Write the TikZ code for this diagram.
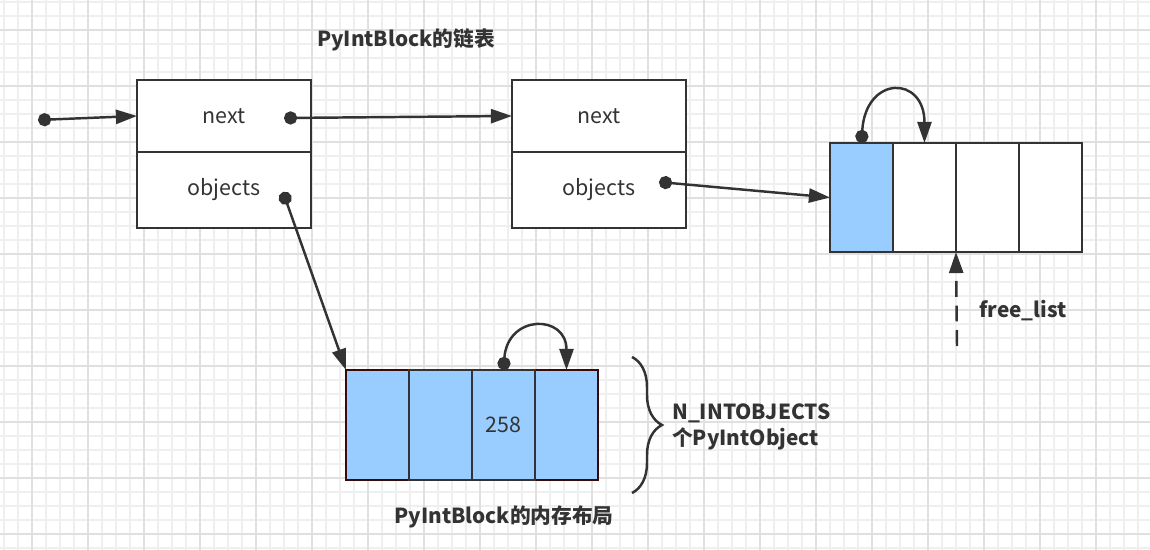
\documentclass[tikz,border=0pt]{standalone}
\usepackage{fontspec}
\setmainfont{Noto Sans CJK SC}
\usetikzlibrary{arrows.meta,positioning,decorations.pathreplacing}
\definecolor{linegray}{HTML}{333333}
\definecolor{cellblue}{HTML}{99CCFF}
\definecolor{edgered}{HTML}{3A0A0A}
\definecolor{gridminor}{HTML}{EFEFEF}
\definecolor{gridmajor}{HTML}{E0E0E0}

\begin{document}
\begin{tikzpicture}[x=0.02cm, y=-0.02cm,
    font=\fontsize{12.2}{14.5}\selectfont,
    every node/.style={text=linegray},
    field/.style={draw=linegray, line width=1.4pt, fill=white, minimum width=3.48cm, inner sep=0pt, outer sep=0pt},
    slot/.style={draw=linegray, line width=1.4pt, fill=cellblue, minimum width=1.26cm, inner sep=0pt, outer sep=0pt, anchor=north west},
    ptr/.style={draw=linegray, line width=1.4pt, {Circle[length=7.5pt]}-{Triangle[length=12pt,width=8pt]}},
    heading/.style={font=\fontsize{11.8}{14.8}\selectfont\bfseries}]
    \useasboundingbox (0,0) rectangle (1150,550);
    \fill[white] (0,0) rectangle (1150,550);
    \foreach \i in {0,...,82} \draw[gridminor, line width=0.6pt] ({4+14*\i},0) -- ({4+14*\i},550);
    \foreach \j in {0,...,39} \draw[gridminor, line width=0.6pt] (0,{2+14*\j}) -- (1150,{2+14*\j});
    \foreach \i in {0,...,20} \draw[gridmajor, line width=0.6pt] ({32+56*\i},0) -- ({32+56*\i},550);
    \foreach \j in {0,...,9} \draw[gridmajor, line width=0.6pt] (0,{30+56*\j}) -- (1150,{30+56*\j});

    \node[heading] (title) at (406,40) {PyIntBlock的链表};
    \node[field, minimum height=1.44cm, anchor=north west] (b1next) at (137,80) {next};
    \node[field, minimum height=1.52cm, below=0pt of b1next] (b1obj) {objects};
    \node[field, minimum height=1.44cm, anchor=north west] (b2next) at (512,80) {next};
    \node[field, minimum height=1.52cm, below=0pt of b2next] (b2obj) {objects};

    \node[slot, minimum height=2.18cm] (f1) at (830,143) {};
    \node[slot, minimum height=2.18cm, fill=white, right=0pt of f1] (f2) {};
    \node[slot, minimum height=2.18cm, fill=white, right=0pt of f2] (f3) {};
    \node[slot, minimum height=2.18cm, fill=white, right=0pt of f3] (f4) {};

    \node[slot, minimum height=2.2cm, draw=edgered] (o1) at (346,370) {};
    \node[slot, minimum height=2.2cm, draw=edgered] (o4) at (535,370) {};
    \node[slot, minimum height=2.2cm] (o2) at (409,370) {};
    \node[slot, minimum height=2.2cm] (o3) at (472,370) {258};

    \coordinate (start) at (38,120);
    \coordinate (n1) at (284,118);
    \coordinate (p1) at (283,192);
    \coordinate (p2) at (659,182);
    \coordinate (fl) at (957,346);
    \draw[ptr] (start) -- (b1next.west);
    \draw[ptr] (n1) -- (b2next.west);
    \draw[ptr] (p1) -- (o1.north west);
    \draw[ptr] (p2) -- (f1.west);
    \draw[ptr] (f1.north) .. controls +(4,-68) and +(0,-68) .. (f2.north);
    \draw[ptr] (o3.north) .. controls +(4,-56) and +(0,-56) .. (o4.north);
    \draw[draw=linegray, line width=1.4pt, dash pattern=on 9pt off 5pt, -{Triangle[length=12pt,width=8pt]}] (fl) -- (f2.south east);
    \node[heading] (fltext) at (1023,311) {free\_list};

    \draw[linegray, line width=1.4pt, decorate, decoration={brace, amplitude=0.6cm}] (632,357) -- (632,493);
    \node[heading, anchor=west, align=left] (count) at (666,427) {N\_INTOBJECTS\\个PyIntObject};
    \node[heading] (layout) at (504,517) {PyIntBlock的内存布局};
\end{tikzpicture}
\end{document}
